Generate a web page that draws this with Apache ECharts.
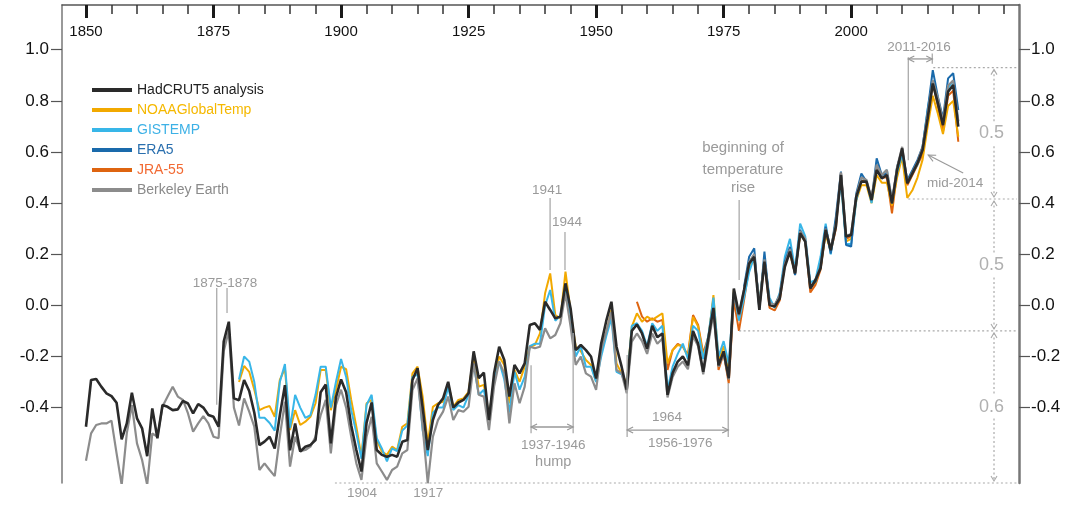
<!DOCTYPE html>
<html><head><meta charset="utf-8">
<script src="https://cdn.jsdelivr.net/npm/echarts@6/dist/echarts.min.js"></script>
<style>html,body{margin:0;padding:0;background:#fff}#c{width:1071px;height:505px}</style>
</head><body><div id="c"></div>
<script>
// ---------------- DATA ----------------
const xMajorTicks = [1850, 1875, 1900, 1925, 1950, 1975, 2000];
const xMinorTicks = [1855,1860,1865,1870,1880,1885,1890,1895,1905,1910,1915,1920,1930,1935,1940,1945,1955,1960,1965,1970,1980,1985,1990,1995,2005,2010,2015,2020,2025,2030];
const yTicks = [-0.4, -0.2, 0.0, 0.2, 0.4, 0.6, 0.8, 1.0];

const hadcrutStart = 1850;
const hadcrut = [-0.475,-0.292,-0.288,-0.318,-0.344,-0.355,-0.381,-0.524,-0.462,-0.342,
-0.442,-0.481,-0.590,-0.403,-0.520,-0.390,-0.397,-0.410,-0.407,-0.374,
-0.384,-0.423,-0.386,-0.400,-0.429,-0.436,-0.475,-0.142,-0.064,-0.364,
-0.371,-0.292,-0.335,-0.420,-0.547,-0.533,-0.514,-0.560,-0.430,-0.312,
-0.567,-0.462,-0.572,-0.553,-0.546,-0.527,-0.340,-0.310,-0.540,-0.360,
-0.290,-0.340,-0.470,-0.566,-0.650,-0.460,-0.380,-0.566,-0.585,-0.592,
-0.585,-0.592,-0.534,-0.527,-0.292,-0.246,-0.400,-0.566,-0.449,-0.390,
-0.364,-0.299,-0.400,-0.380,-0.370,-0.344,-0.180,-0.285,-0.263,-0.449,
-0.266,-0.162,-0.214,-0.357,-0.233,-0.266,-0.227,-0.077,-0.070,-0.096,
0.014,-0.018,-0.051,-0.044,0.086,-0.012,-0.175,-0.155,-0.175,-0.200,
-0.286,-0.149,-0.060,0.014,-0.162,-0.240,-0.330,-0.100,-0.075,-0.110,
-0.170,-0.080,-0.125,-0.110,-0.350,-0.265,-0.220,-0.200,-0.235,-0.100,
-0.150,-0.260,-0.130,-0.010,-0.235,-0.180,-0.285,0.066,-0.035,0.060,
0.164,0.190,-0.018,0.171,0.001,-0.005,0.027,0.151,0.210,0.125,
0.282,0.249,0.066,0.099,0.145,0.295,0.216,0.308,0.510,0.269,
0.275,0.425,0.484,0.484,0.412,0.530,0.497,0.510,0.399,0.530,
0.614,0.477,0.516,0.556,0.608,0.732,0.868,0.790,0.705,0.836,
0.862,0.699];

const noaaStart = 1880;
const noaa = [-0.300,-0.237,-0.260,-0.330,-0.410,-0.400,-0.394,-0.436,-0.292,-0.246,
-0.488,-0.410,-0.468,-0.455,-0.436,-0.383,-0.253,-0.253,-0.410,-0.330,
-0.240,-0.250,-0.370,-0.475,-0.592,-0.383,-0.370,-0.527,-0.572,-0.585,
-0.553,-0.566,-0.475,-0.462,-0.266,-0.240,-0.357,-0.540,-0.397,-0.383,
-0.377,-0.305,-0.397,-0.370,-0.364,-0.338,-0.194,-0.318,-0.311,-0.436,
-0.292,-0.200,-0.233,-0.383,-0.253,-0.299,-0.240,-0.162,-0.155,-0.110,
0.047,0.125,-0.038,-0.051,0.132,-0.025,-0.162,-0.180,-0.214,-0.233,
-0.299,-0.162,-0.110,-0.018,-0.227,-0.266,-0.305,-0.083,-0.031,-0.064,
-0.044,-0.057,-0.044,-0.031,-0.227,-0.175,-0.155,-0.160,-0.200,-0.045,
-0.083,-0.200,-0.135,0.040,-0.215,-0.160,-0.265,0.060,-0.040,0.050,
0.150,0.180,0.010,0.180,0.010,0.000,0.040,0.170,0.200,0.130,
0.280,0.250,0.070,0.090,0.150,0.280,0.210,0.330,0.490,0.250,
0.260,0.410,0.470,0.470,0.400,0.510,0.480,0.480,0.390,0.500,
0.580,0.420,0.450,0.500,0.570,0.700,0.820,0.750,0.670,0.780,
0.800,0.660];

const gistempStart = 1880;
const gistemp = [-0.29,-0.20,-0.22,-0.30,-0.44,-0.44,-0.46,-0.49,-0.30,-0.23,
-0.48,-0.35,-0.40,-0.44,-0.43,-0.35,-0.24,-0.24,-0.40,-0.30,
-0.21,-0.28,-0.41,-0.50,-0.60,-0.39,-0.35,-0.52,-0.56,-0.61,
-0.56,-0.57,-0.49,-0.47,-0.28,-0.27,-0.49,-0.59,-0.42,-0.40,
-0.40,-0.32,-0.41,-0.39,-0.40,-0.35,-0.23,-0.35,-0.33,-0.44,
-0.29,-0.22,-0.29,-0.42,-0.26,-0.33,-0.28,-0.16,-0.15,-0.15,
0.00,0.06,-0.06,-0.04,0.07,-0.04,-0.20,-0.16,-0.24,-0.24,
-0.30,-0.20,-0.12,-0.05,-0.26,-0.27,-0.32,-0.08,-0.07,-0.10,
-0.16,-0.07,-0.10,-0.08,-0.33,-0.24,-0.19,-0.15,-0.21,-0.08,
-0.10,-0.21,-0.12,0.03,-0.20,-0.14,-0.23,0.05,-0.06,0.03,
0.13,0.19,0.01,0.18,0.03,-0.01,0.05,0.19,0.26,0.14,
0.32,0.27,0.09,0.10,0.19,0.32,0.20,0.33,0.48,0.24,
0.24,0.41,0.50,0.49,0.40,0.55,0.51,0.53,0.41,0.52,
0.59,0.48,0.52,0.55,0.62,0.77,0.88,0.79,0.72,0.85,
0.88,0.72];

const era5Start = 1979;
const era5 = [0.073,0.190,0.223,-0.018,0.210,0.008,0.001,0.040,0.171,0.229,
0.118,0.295,0.250,0.073,0.092,0.151,0.308,0.203,0.347,0.523,
0.236,0.230,0.438,0.516,0.484,0.412,0.575,0.510,0.516,0.399,
0.542,0.608,0.490,0.529,0.569,0.620,0.764,0.920,0.816,0.731,
0.888,0.908,0.764];

const jra55Start = 1958;
const jra55 = [0.014,-0.044,-0.064,-0.051,-0.064,-0.057,-0.253,-0.175,-0.151,-0.162,
-0.194,-0.038,-0.077,-0.188,-0.123,0.021,-0.253,-0.188,-0.305,0.020,
-0.100,0.020,0.150,0.200,-0.010,0.170,-0.010,-0.020,0.020,0.160,
0.220,0.120,0.280,0.250,0.050,0.080,0.140,0.290,0.210,0.300,
0.520,0.260,0.270,0.420,0.490,0.480,0.420,0.530,0.500,0.500,
0.360,0.520,0.600,0.470,0.510,0.550,0.590,0.720,0.870,0.780,
0.680,0.820,0.840,0.640];

const berkeleyStart = 1850;
const berkeley = [-0.608,-0.501,-0.468,-0.462,-0.462,-0.451,-0.579,-0.703,-0.501,-0.390,
-0.540,-0.605,-0.703,-0.501,-0.514,-0.396,-0.357,-0.318,-0.357,-0.370,
-0.423,-0.494,-0.462,-0.433,-0.462,-0.514,-0.520,-0.180,-0.100,-0.400,
-0.470,-0.364,-0.416,-0.475,-0.644,-0.618,-0.644,-0.668,-0.514,-0.377,
-0.631,-0.514,-0.570,-0.566,-0.553,-0.514,-0.430,-0.370,-0.579,-0.390,
-0.330,-0.400,-0.514,-0.618,-0.683,-0.514,-0.436,-0.618,-0.650,-0.683,
-0.644,-0.631,-0.579,-0.566,-0.331,-0.286,-0.475,-0.696,-0.514,-0.449,
-0.416,-0.357,-0.449,-0.410,-0.416,-0.397,-0.227,-0.350,-0.357,-0.488,
-0.318,-0.220,-0.266,-0.462,-0.305,-0.383,-0.318,-0.162,-0.168,-0.162,
-0.090,-0.129,-0.116,-0.070,0.047,-0.083,-0.233,-0.200,-0.266,-0.279,
-0.331,-0.175,-0.103,-0.025,-0.253,-0.266,-0.344,-0.142,-0.110,-0.140,
-0.190,-0.110,-0.150,-0.130,-0.360,-0.280,-0.240,-0.220,-0.250,-0.120,
-0.160,-0.270,-0.150,-0.030,-0.240,-0.190,-0.290,0.050,-0.040,0.060,
0.170,0.200,0.000,0.180,0.010,0.000,0.040,0.160,0.220,0.130,
0.290,0.260,0.070,0.100,0.150,0.300,0.220,0.320,0.520,0.270,
0.280,0.430,0.500,0.490,0.420,0.550,0.510,0.530,0.410,0.540,
0.620,0.480,0.520,0.560,0.620,0.750,0.880,0.810,0.720,0.860,
0.880,0.720];

const seriesNames = ['HadCRUT5 analysis','NOAAGlobalTemp','GISTEMP','ERA5','JRA-55','Berkeley Earth'];

// ---------------- STYLE ----------------
const SANS = "'Liberation Sans',Arial,sans-serif";
const lineColors = {
  'HadCRUT5 analysis':'#2a2a2a','NOAAGlobalTemp':'#f2a900','GISTEMP':'#38b6e8',
  'ERA5':'#1a6aab','JRA-55':'#de6410','Berkeley Earth':'#8c8c8c'};
const legendTextColors = {
  'HadCRUT5 analysis':'#222222','NOAAGlobalTemp':'#f5b800','GISTEMP':'#3db1e6',
  'ERA5':'#2a6fae','JRA-55':'#f26a33','Berkeley Earth':'#8a8a8a'};

function pairs(start, arr){ return arr.map((v,i)=>[start+i, v]); }
const seriesData = {
  'HadCRUT5 analysis': pairs(hadcrutStart, hadcrut),
  'NOAAGlobalTemp': pairs(noaaStart, noaa),
  'GISTEMP': pairs(gistempStart, gistemp),
  'ERA5': pairs(era5Start, era5),
  'JRA-55': pairs(jra55Start, jra55),
  'Berkeley Earth': pairs(berkeleyStart, berkeley)
};
const drawOrder = ['JRA-55','NOAAGlobalTemp','GISTEMP','ERA5','Berkeley Earth','HadCRUT5 analysis'];
const widths = {'HadCRUT5 analysis':2.6,'NOAAGlobalTemp':2,'GISTEMP':2,'ERA5':2,'JRA-55':2,'Berkeley Earth':2.2};

const X_MIN = 1845.3, X_MAX = 2032.9, Y_MIN = -0.695, Y_MAX = 1.175;

const option = {
  animation:false,
  backgroundColor:'#fff',
  grid:{left:62, right:52, top:5, height:478, containLabel:false},
  xAxis:[
    {type:'value', position:'top', min:X_MIN, max:X_MAX,
     axisLine:{show:true, onZero:false, lineStyle:{color:'#555', width:1.5}},
     axisTick:{show:true, inside:true, length:13, customValues:xMajorTicks, lineStyle:{color:'#1a1a1a', width:3}},
     axisLabel:{show:true, inside:true, margin:19, customValues:xMajorTicks, formatter:v=>String(v), color:'#111', fontSize:15, fontFamily:SANS},
     splitLine:{show:false}},
    {type:'value', position:'top', min:X_MIN, max:X_MAX,
     axisLine:{show:false, onZero:false},
     axisTick:{show:true, inside:true, length:9, customValues:xMinorTicks, lineStyle:{color:'#333', width:1.5}},
     axisLabel:{show:false},
     splitLine:{show:false}}
  ],
  yAxis:[
    {type:'value', position:'left', min:Y_MIN, max:Y_MAX,
     axisLine:{show:true, onZero:false, lineStyle:{color:'#777', width:1.5}},
     axisTick:{show:true, inside:false, length:11, customValues:yTicks, lineStyle:{color:'#555', width:1.2}},
     axisLabel:{show:true, margin:13, customValues:yTicks, formatter:v=>v.toFixed(1), color:'#111', fontSize:17, fontFamily:SANS},
     splitLine:{show:false}},
    {type:'value', position:'right', min:Y_MIN, max:Y_MAX,
     axisLine:{show:true, onZero:false, lineStyle:{color:'#777', width:2.5}},
     axisTick:{show:true, inside:false, length:11, customValues:yTicks, lineStyle:{color:'#555', width:1.2}},
     axisLabel:{show:true, margin:12, customValues:yTicks, formatter:v=>v.toFixed(1), color:'#111', fontSize:17, fontFamily:SANS},
     splitLine:{show:false}}
  ],
  legend:{
    show:true, orient:'vertical', left:87, top:77, itemWidth:40, itemHeight:4, itemGap:4,
    icon:'rect', selectedMode:false,
    textStyle:{fontSize:14, fontFamily:SANS, lineHeight:16},
    data: seriesNames.map(n=>({name:n, textStyle:{color:legendTextColors[n]}}))
  },
  series: drawOrder.map((n,i)=>({
    name:n, type:'line', data:seriesData[n], xAxisIndex:0, yAxisIndex:0,
    showSymbol:false, symbol:'none', z:2+i,
    lineStyle:{color:lineColors[n], width:widths[n]},
    itemStyle:{color:lineColors[n]}
  }))
};

const chart = echarts.init(document.getElementById('c'));
chart.setOption(option);

// ---------------- ANNOTATIONS (data coordinates) ----------------
const ANN = '#9a9a9a', ANNL = '#aaaaaa', DOT = '#aaaaaa';
const annTexts = [
  {t:'1875-1878', x:1877.25, y:0.087, s:13.5},
  {t:'1941', x:1940.4, y:0.451, s:13.5},
  {t:'1944', x:1944.3, y:0.326, s:13.5},
  {t:'1937-1946', x:1941.6, y:-0.548, s:13.5},
  {t:'hump', x:1941.6, y:-0.612, s:14.5},
  {t:'1904', x:1904.1, y:-0.734, s:13.5},
  {t:'1917', x:1917.1, y:-0.734, s:13.5},
  {t:'1964', x:1963.9, y:-0.437, s:13.5},
  {t:'1956-1976', x:1966.5, y:-0.539, s:13.5},
  {t:'beginning of', x:1978.8, y:0.617, s:15},
  {t:'temperature', x:1978.8, y:0.531, s:15},
  {t:'rise', x:1978.8, y:0.460, s:15},
  {t:'2011-2016', x:2013.3, y:1.011, s:13.5},
  {t:'mid-2014', x:2020.4, y:0.478, s:13.5}
];
const annLines = [
  [1875.63,0.068,1875.63,-0.389],
  [1877.65,0.068,1877.65,-0.030],
  [1940.98,0.420,1940.98,0.138],
  [1943.9,0.287,1943.9,0.138],
  [1937.25,-0.234,1937.25,-0.500],
  [1945.5,-0.108,1945.5,-0.500],
  [1956.08,-0.194,1956.08,-0.515],
  [1975.9,-0.304,1975.9,-0.515],
  [1978.04,0.412,1978.04,0.099],
  [2011.2,0.971,2011.2,0.568],
  [2015.9,0.985,2015.9,0.945]
];
const annArrows = [ // double-headed horizontals
  [1937.25,1945.5,-0.476],
  [1956.08,1975.9,-0.488],
  [2011.2,2015.9,0.964]
];
const dottedH = [
  [2016.1,2032.5,0.93],
  [2011.2,2032.5,0.416],
  [1978.04,2032.5,-0.10],
  [1898.8,2032.5,-0.695]
];
const bracketX = 2028.0;
const bracketSegs = [[0.93,0.416,'0.5'],[0.416,-0.10,'0.5'],[-0.10,-0.695,'0.6']];

function P(x,y){ return chart.convertToPixel({gridIndex:0},[x,y]); }
const g = [];
function line(a,b,stroke,w,dash){ g.push({type:'line', silent:true, z:50, shape:{x1:a[0],y1:a[1],x2:b[0],y2:b[1]}, style:{stroke:stroke, lineWidth:w, lineDash:dash||null}}); }
function poly(pts,stroke,w){ g.push({type:'polyline', silent:true, z:50, shape:{points:pts}, style:{stroke:stroke, lineWidth:w, fill:null}}); }
function text(t,p,size,opt){ g.push({type:'text', silent:true, z:60, style:Object.assign({text:t, x:p[0], y:p[1], textAlign:'center', textVerticalAlign:'middle', align:'center', verticalAlign:'middle', fill:ANN, font:size+'px '+SANS}, opt||{})}); }

annTexts.forEach(a=>text(a.t, P(a.x,a.y), a.s));
annLines.forEach(l=>line(P(l[0],l[1]),P(l[2],l[3]),ANNL,1.3));
annArrows.forEach(a=>{
  const p1=P(a[0],a[2]), p2=P(a[1],a[2]);
  line(p1,p2,'#999',1.3);
  poly([[p1[0]+6,p1[1]-3],[p1[0],p1[1]],[p1[0]+6,p1[1]+3]],'#999',1.2);
  poly([[p2[0]-6,p2[1]-3],[p2[0],p2[1]],[p2[0]-6,p2[1]+3]],'#999',1.2);
});
(function(){
  const a=P(2021.96,0.518), b=P(2015.1,0.588);
  line(a,b,'#999',1.1);
  const ang=Math.atan2(a[1]-b[1],a[0]-b[0]), L=8, s=0.45;
  poly([[b[0]+L*Math.cos(ang-s),b[1]+L*Math.sin(ang-s)],[b[0],b[1]],[b[0]+L*Math.cos(ang+s),b[1]+L*Math.sin(ang+s)]],'#999',1.1);
})();
dottedH.forEach(d=>line(P(d[0],d[2]),P(d[1],d[2]),DOT,1.2,[2,2.5]));
bracketSegs.forEach(s=>{
  const t=P(bracketX,s[0]), b=P(bracketX,s[1]);
  line([t[0],t[1]+2],[b[0],b[1]-2],DOT,1.2,[2,2.5]);
  poly([[t[0]-3,t[1]+7],[t[0],t[1]+2],[t[0]+3,t[1]+7]],DOT,1.1);
  poly([[b[0]-3,b[1]-7],[b[0],b[1]-2],[b[0]+3,b[1]-7]],DOT,1.1);
  const m=P(bracketX-0.5,(s[0]+s[1])/2);
  text(s[2],m,18,{fill:'#b0b0b0', backgroundColor:'#fff', padding:[2,0]});
});
chart.setOption({graphic:{elements:g}});
</script>
</body></html>
